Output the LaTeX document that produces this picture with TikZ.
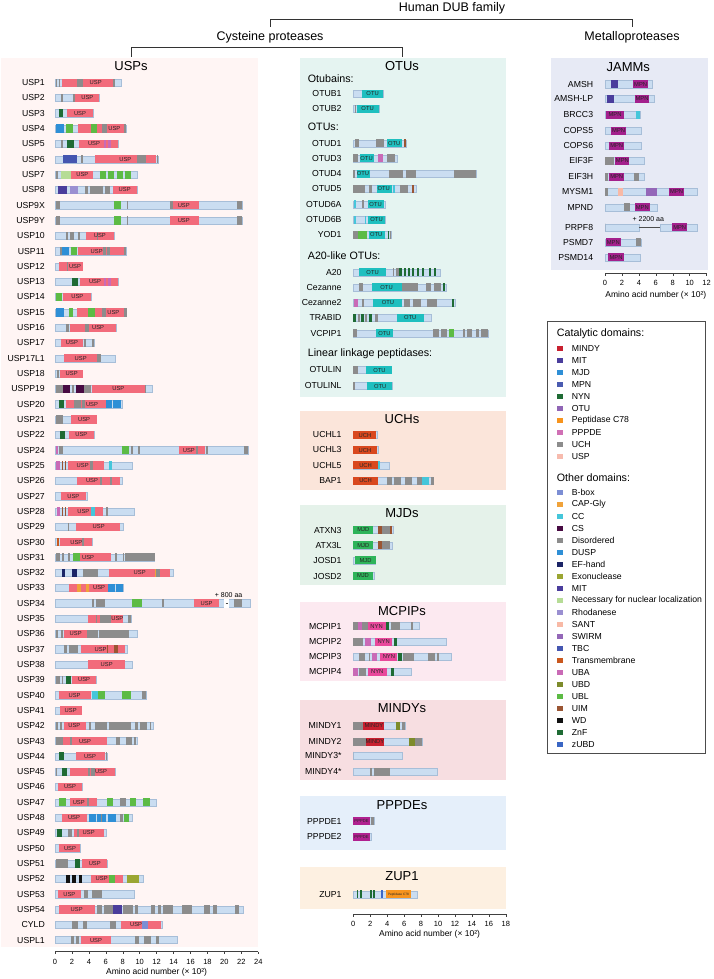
\documentclass[tikz,border=0pt]{standalone}
\usepackage{fontspec}
\setmainfont{Liberation Sans}
\usetikzlibrary{positioning}

% domain colours in the bars
\definecolor{barblue}{HTML}{CADDF1}
\definecolor{barline}{HTML}{A7BED8}
\definecolor{cusp}{HTML}{F26B7B}
\definecolor{dis}{HTML}{8C8C8C}
\definecolor{dusp}{HTML}{2E8FD6}
\definecolor{ubl}{HTML}{5CBB45}
\definecolor{znf}{HTML}{1E6B34}
\definecolor{uba}{HTML}{C96AB6}
\definecolor{tbc}{HTML}{4556B0}
\definecolor{nls}{HTML}{B6DC96}
\definecolor{mit}{HTML}{4A3D9C}
\definecolor{rhod}{HTML}{9A8FD1}
\definecolor{cs}{HTML}{470A42}
\definecolor{cc}{HTML}{45C6DA}
\definecolor{uim}{HTML}{9A5533}
\definecolor{tm}{HTML}{C9581E}
\definecolor{capgly}{HTML}{F0A23A}
\definecolor{efh}{HTML}{1B2466}
\definecolor{exo}{HTML}{9BA632}
\definecolor{ubd}{HTML}{7D8B2B}
\definecolor{wd}{HTML}{111111}
\definecolor{bbox}{HTML}{7C8ED4}
\definecolor{sant}{HTML}{F8B9A6}
\definecolor{swirm}{HTML}{9467B8}
\definecolor{zubd}{HTML}{3A66C4}
\definecolor{otu}{HTML}{1FBFBF}
\definecolor{uch}{HTML}{D9481E}
\definecolor{mjd}{HTML}{2EB45A}
\definecolor{nyn}{HTML}{E8489B}
\definecolor{mindy}{HTML}{C8202F}
\definecolor{pppde}{HTML}{B0208F}
\definecolor{mpn}{HTML}{A3208C}
\definecolor{pepc}{HTML}{F7941D}
% legend only
\definecolor{lgmpn}{HTML}{4A5BB0}
\definecolor{lgotu}{HTML}{9065B5}
\definecolor{lgpppde}{HTML}{D070B5}
\definecolor{lgusp}{HTML}{F7BBAE}
% panel backgrounds
\definecolor{uspbg}{HTML}{FFF5F4}
\definecolor{otubg}{HTML}{E5F4F1}
\definecolor{uchbg}{HTML}{FBE5DA}
\definecolor{mjdbg}{HTML}{E5F2EA}
\definecolor{mcpipbg}{HTML}{FCE9F0}
\definecolor{mindybg}{HTML}{F7DEE1}
\definecolor{pppdebg}{HTML}{E5EFFA}
\definecolor{zupbg}{HTML}{FDF0E1}
\definecolor{jammbg}{HTML}{E7EAF5}

\newcommand{\tinylbl}{\fontsize{4.2}{4.2}\selectfont}
\newcommand{\tinierlbl}{\fontsize{3.2}{3.2}\selectfont}

% one protein: id, name, row y, length, domains (from/to/colour), domain labels (at/text)
\newcommand{\protein}[6]{%
  \node[plabel] (#1) at (\lblx,#3) {#2};
  \filldraw[bar] (0,{#3-3.6}) rectangle (#4,{#3+3.6});
  \foreach \da/\db/\dc in {#5} {\fill[\dc] (\da,{#3-4.1}) rectangle (\db,{#3+4.1});}
  \foreach \lp/\lt [count=\k] in {#6} {\node[dlabel] (#1-\k) at (\lp,#3) {\lt};}
}

\begin{document}
\begin{tikzpicture}[
    x=1pt, y=-1pt,
    head/.style={font=\fontsize{12.5}{14}\selectfont, inner sep=1pt},
    ptitle/.style={font=\fontsize{13}{15}\selectfont, inner sep=0pt},
    sub/.style={font=\fontsize{10.7}{12}\selectfont, anchor=west, inner sep=0pt},
    plabel/.style={font=\fontsize{8.7}{10}\selectfont, anchor=east, inner sep=0pt},
    dlabel/.style={font=\fontsize{5.8}{6}\selectfont, text=black!85, inner sep=0pt},
    bar/.style={fill=barblue, draw=barline, line width=0.4pt},
    axisline/.style={draw=black!75, line width=0.5pt},
    ticklab/.style={font=\fontsize{7.5}{9}\selectfont, inner sep=0pt},
    axtitle/.style={font=\fontsize{8.5}{10}\selectfont, inner sep=0pt},
    note/.style={font=\fontsize{7}{8}\selectfont, inner sep=0pt},
    legtext/.style={font=\fontsize{8.7}{10}\selectfont, anchor=west, inner sep=0pt},
    bracket/.style={draw=black!80, line width=0.6pt}
]
    \useasboundingbox (0,0) rectangle (713,979);

    % Panel backgrounds
    \fill[uspbg] (1,58) rectangle (258,947);
    \fill[otubg] (300,58.3) rectangle (506,397);
    \fill[uchbg] (300,410.7) rectangle (506,490);
    \fill[mjdbg] (300,505) rectangle (506,585);
    \fill[mcpipbg] (300,602.3) rectangle (506,681);
    \fill[mindybg] (300,700.3) rectangle (506,780);
    \fill[pppdebg] (300,796) rectangle (506,850);
    \fill[zupbg] (300,867.3) rectangle (506,909.3);
    \fill[jammbg] (551,58.3) rectangle (707.7,270);

    % Family tree
    \node[head] (dub) at (452,8) {Human DUB family};
    \node[head] (cys) at (270,37) {Cysteine proteases};
    \node[head] (metal) at (632,37) {Metalloproteases};
    \coordinate (uspTop) at (131,57);
    \coordinate (otuTop) at (402,57);
    \draw[bracket] ([yshift=3pt]cys.north) |- ([yshift=-4pt]dub.south) -| ([yshift=3pt]metal.north);
    \draw[bracket] (uspTop) |- ([yshift=-3pt]cys.south) -| (otuTop);

    % Panel titles
    \node[ptitle] (usps) at (131,65.7) {USPs};
    \node[ptitle] (otus) at (402,65.7) {OTUs};
    \node[ptitle] (uchs) at (402,419.3) {UCHs};
    \node[ptitle] (mjds) at (402,513.3) {MJDs};
    \node[ptitle] (mcpips) at (402,610.7) {MCPIPs};
    \node[ptitle] (mindys) at (402,708.3) {MINDYs};
    \node[ptitle] (pppdes) at (402,805) {PPPDEs};
    \node[ptitle] (zups) at (402,876) {ZUP1};
    \node[ptitle] (jamms) at (628.3,66.7) {JAMMs};

    % OTU sub-groups
    \node[sub] (otubains) at (307.7,78.3) {Otubains:};
    \node[sub] (otugroup) at (307.7,127.3) {OTUs:};
    \node[sub] (a20like) at (307.7,256) {A20-like OTUs:};
    \node[sub] (linear) at (307.7,354) {Linear linkage peptidases:};

    % USPs
    \begin{scope}[shift={(55,0)}, x=8.47pt]
    \def\lblx{-1.18}
    \protein{usp1}{USP1}{82.7}{7.76}{0.12/0.28/dis, 0.47/0.59/dis, 0.87/7.1/cusp, 2.64/3.35/dis, 6.9/7.1/dis}{4.8/USP}
    \protein{usp2}{USP2}{98.0}{5.24}{0.7/0.95/dis, 2.1/2.36/dis, 2.36/5.24/cusp}{3.82/USP}
    \protein{usp3}{USP3}{113.3}{4.53}{0.47/0.95/znf, 1.46/4.53/cusp}{2.95/USP}
    \protein{usp4}{USP4}{128.6}{8.39}{0.12/1.1/dusp, 1.26/2.09/ubl, 2.68/8.15/cusp, 4.25/5.0/ubl, 5.5/6.1/dis, 8.15/8.39/dis}{7.0/USP}
    \protein{usp5}{USP5}{143.9}{7.48}{0.7/0.9/dis, 1.38/2.28/znf, 2.87/7.48/cusp, 5.75/6.0/uba, 6.22/6.6/uba}{4.6/USP}
    \protein{usp6}{USP6}{159.3}{12.2}{0.9/2.6/tbc, 3.07/3.3/dis, 4.68/11.9/cusp, 9.72/10.7/dis, 12.0/12.2/dis}{8.3/USP}
    \protein{usp7}{USP7}{174.6}{9.65}{0.08/0.4/dis, 0.67/1.85/nls, 1.85/4.53/cusp, 5.35/6.0/ubl, 6.3/7.0/ubl, 7.28/8.0/ubl, 8.27/8.98/ubl}{3.23/USP}
    \protein{usp8}{USP8}{189.9}{9.65}{0.4/1.42/mit, 1.8/2.76/rhod, 3.58/3.9/dis, 4.17/5.7/dis, 5.94/6.5/dis, 6.81/9.65/cusp}{8.23/USP}
    \protein{usp9x}{USP9X}{205.2}{22.1}{0.08/0.63/dis, 6.97/7.83/ubl, 8.46/8.66/dis, 13.6/13.9/dis, 13.9/17.0/cusp, 21.46/22.1/dis}{15.2/USP}
    \protein{usp9y}{USP9Y}{220.5}{22.1}{0.08/0.63/dis, 6.97/7.83/ubl, 8.46/8.66/dis, 13.54/17.0/cusp, 21.46/22.1/dis}{15.2/USP}
    \protein{usp10}{USP10}{235.8}{6.97}{1.26/1.5/dis, 1.73/2.24/dis, 2.68/2.95/dis, 3.66/6.97/cusp, 4.9/5.1/dis}{5.3/USP}
    \protein{usp11}{USP11}{251.1}{8.39}{0.63/0.83/dis, 0.83/1.7/dusp, 1.85/2.6/ubl, 2.76/8.15/cusp, 5.7/6.0/dis, 6.18/6.5/dis, 8.15/8.39/dis}{4.92/USP}
    \protein{usp12}{USP12}{266.4}{3.27}{0.51/3.27/cusp, 1.38/1.57/dis}{2.36/USP}
    \protein{usp13}{USP13}{281.7}{7.48}{2.05/2.76/znf, 2.95/7.48/cusp, 5.75/6.0/uba, 6.26/6.6/uba}{4.72/USP}
    \protein{usp14}{USP14}{297.0}{4.25}{0.12/0.79/ubl, 0.98/4.25/cusp}{2.64/USP}
    \protein{usp15}{USP15}{312.4}{8.46}{0.12/1.06/dusp, 1.61/2.09/ubl, 2.56/8.15/cusp, 3.9/4.69/ubl, 5.5/6.0/dis, 8.2/8.46/dis}{6.89/USP}
    \protein{usp16}{USP16}{327.7}{7.17}{1.34/1.65/dis, 1.77/7.17/cusp, 3.5/4.06/dis}{5.08/USP}
    \protein{usp17}{USP17}{343.0}{4.65}{0.75/3.31/cusp, 3.39/3.62/dis, 4.33/4.65/dis}{2.0/USP}
    \protein{usp17l1}{USP17L1}{358.3}{7.05}{1.1/4.96/cusp, 5.0/5.43/dis}{3.03/USP}
    \protein{usp18}{USP18}{373.6}{3.27}{0.24/0.47/dis, 0.55/3.27/cusp}{1.97/USP}
    \protein{uspp19}{USPP19}{388.9}{11.5}{0.08/0.98/dis, 0.98/1.81/cs, 2.0/2.24/dis, 2.48/3.39/cs, 3.46/4.21/dis, 4.33/10.67/cusp, 10.63/10.8/dis}{7.48/USP}
    \protein{usp20}{USP20}{404.2}{7.95}{0.43/1.1/znf, 1.3/6.02/cusp, 2.24/3.03/dis, 3.15/3.58/dis, 6.02/6.77/dusp, 6.9/7.8/dusp}{4.37/USP}
    \protein{usp21}{USP21}{419.5}{4.92}{0.08/0.94/dis, 1.89/4.92/cusp}{3.43/USP}
    \protein{usp22}{USP22}{434.8}{4.6}{0.59/1.22/znf, 1.65/4.6/cusp}{3.11/USP}
    \protein{usp24}{USP24}{450.1}{22.76}{0.08/0.39/uba, 0.47/0.94/dis, 7.87/8.7/ubl, 8.98/9.17/dis, 9.8/10.0/dis, 14.65/17.68/cusp, 16.65/16.9/dis, 17.87/18.1/dis, 22.3/22.76/dis}{15.8/USP}
    \protein{usp25}{USP25}{465.5}{9.17}{0.16/0.59/uba, 0.87/1.0/uim, 1.15/1.3/uim, 1.54/5.75/cusp, 4.13/4.45/dis, 6.38/6.69/cc}{3.27/USP}
    \protein{usp26}{USP26}{480.8}{7.95}{2.64/7.68/cusp, 5.3/5.5/dis, 6.54/6.69/dis}{4.37/USP}
    \protein{usp27}{USP27}{496.1}{3.82}{0.75/3.7/cusp}{2.17/USP}
    \protein{usp28}{USP28}{511.4}{9.4}{0.24/0.63/uba, 0.87/1.0/uim, 1.15/1.3/uim, 1.54/5.7/cusp, 4.2/4.69/cc, 6.02/6.26/dis}{3.35/USP}
    \protein{usp29}{USP29}{526.7}{8.07}{1.5/1.7/dis, 2.52/7.68/cusp}{5.16/USP}
    \protein{usp30}{USP30}{542.0}{4.45}{0.2/0.45/tm, 0.59/4.33/cusp, 3.23/3.43/dis}{2.52/USP}
    \protein{usp31}{USP31}{557.3}{11.77}{0.08/0.59/dis, 0.83/1.06/dis, 1.54/1.77/dis, 2.13/2.95/ubl, 2.95/6.61/cusp, 7.09/7.32/dis, 8.03/8.2/dis, 8.3/11.77/dis}{3.9/USP}
    \protein{usp32}{USP32}{572.6}{13.9}{0.83/1.14/efh, 2.05/2.64/efh, 3.27/5.12/dis, 6.42/13.58/cusp, 11.75/11.9/capgly, 11.9/12.4/dis}{10.0/USP}
    \protein{usp33}{USP33}{587.9}{8.07}{1.65/6.22/cusp, 2.6/3.03/capgly, 3.66/4.06/capgly, 6.22/7.09/dusp, 7.2/8.07/dusp}{5.2/USP}
    \protein{usp34}{USP34}{603.2}{23.03}{4.37/4.65/dis, 4.88/5.94/dis, 9.13/10.24/ubl, 12.68/12.87/dis, 16.42/19.4/cusp, 21.14/22.13/dis}{17.9/USP}
    \fill[white] (20.0,598.5) rectangle (20.6,607.9);
    \coordinate (gapL) at (20.15,603.2);
    \coordinate (gapR) at (20.45,603.2);
    \draw[black!70, line width=0.5pt] (gapL) -- (gapR);
    \node[note] (usp34extra) at (20.5,595) {+ 800 aa};
    \protein{usp35}{USP35}{618.6}{8.94}{3.9/8.07/cusp, 4.8/5.0/dis, 5.31/6.61/dis, 8.58/8.94/dis}{7.36/USP}
    \protein{usp36}{USP36}{633.9}{9.76}{0.16/0.35/dis, 0.67/0.9/dis, 1.1/3.74/cusp, 3.82/5.12/dis, 5.16/8.7/dis}{2.44/USP}
    \protein{usp37}{USP37}{649.2}{8.54}{1.06/1.46/dis, 1.65/2.72/dis, 3.03/8.27/cusp, 6.14/6.3/uim, 7.0/7.4/uim}{5.39/USP}
    \protein{usp38}{USP38}{664.5}{9.06}{3.9/8.23/cusp}{6.1/USP}
    \protein{usp39}{USP39}{679.8}{4.92}{0.08/0.63/dis, 0.79/0.98/dis, 1.26/1.89/znf, 2.0/4.84/cusp}{3.43/USP}
    \protein{usp40}{USP40}{695.1}{10.75}{0.47/4.25/cusp, 4.37/5.04/cc, 5.04/5.87/ubl, 7.95/9.02/ubl, 10.28/10.75/dis}{2.32/USP}
    \protein{usp41}{USP41}{710.4}{3.15}{0.59/3.15/cusp}{1.85/USP}
    \protein{usp42}{USP42}{725.7}{11.54}{0.12/0.35/dis, 0.59/0.83/dis, 1.02/3.66/cusp, 3.98/4.29/dis, 4.69/6.18/dis, 6.38/8.94/dis, 9.49/9.8/dis, 10.04/10.9/dis, 11.2/11.35/dis}{2.28/USP}
    \protein{usp43}{USP43}{741.0}{9.72}{0.08/0.94/dis, 0.98/6.18/cusp, 1.81/2.0/dis, 7.17/7.4/dis, 7.48/7.72/dis, 8.35/9.13/dis, 9.33/9.55/dis}{3.54/USP}
    \protein{usp44}{USP44}{756.3}{6.18}{0.47/1.06/znf, 2.44/5.9/cusp, 5.98/6.18/dis}{4.13/USP}
    \protein{usp45}{USP45}{771.6}{7.09}{0.08/0.28/dis, 0.83/1.38/znf, 1.73/7.09/cusp, 3.9/4.13/dis, 4.29/4.69/dis}{5.43/USP}
    \protein{usp46}{USP46}{786.9}{3.23}{0.39/3.23/cusp}{1.77/USP}
    \protein{usp47}{USP47}{802.3}{11.93}{0.43/1.3/ubl, 1.73/4.92/cusp, 3.74/3.98/dis, 6.18/6.89/ubl, 7.68/8.39/dis, 8.86/9.57/ubl, 10.35/11.22/ubl}{2.8/USP}
    \protein{usp48}{USP48}{817.6}{9.06}{0.83/3.78/cusp, 4.02/4.8/dusp, 4.96/6.02/dusp, 5.43/5.6/dis, 6.22/7.2/dusp, 7.68/8.0/dis, 8.11/8.74/ubl}{2.24/USP}
    \protein{usp49}{USP49}{832.9}{6.02}{0.24/0.87/znf, 1.5/2.05/dis, 2.2/5.79/cusp, 2.6/2.8/dis}{3.98/USP}
    \protein{usp50}{USP50}{848.2}{2.99}{0.43/2.99/cusp}{1.77/USP}
    \protein{usp51}{USP51}{863.5}{6.18}{0.08/1.54/dis, 2.36/2.99/znf, 3.23/6.18/cusp}{4.69/USP}
    \protein{usp52}{USP52}{878.8}{10.43}{1.34/1.77/wd, 2.05/2.48/wd, 2.87/3.23/wd, 4.25/8.07/cusp, 6.42/7.13/ubl, 8.54/9.96/exo}{5.51/USP}
    \protein{usp53}{USP53}{894.1}{9.37}{0.39/3.07/cusp, 3.43/3.9/dis, 4.33/5.59/dis}{1.69/USP}
    \protein{usp54}{USP54}{909.4}{22.17}{0.51/4.72/cusp, 4.92/5.51/dis, 5.75/6.89/dis, 6.89/7.87/mit, 8.03/9.25/dis, 9.45/9.76/dis, 11.3/11.85/dis, 12.2/12.56/dis, 12.76/13.94/dis, 15.04/16.18/dis, 17.56/18.35/dis, 18.7/19.13/dis, 21.3/21.73/dis}{2.56/USP}
    \protein{cyld}{CYLD}{924.7}{12.6}{2.0/2.68/dis, 3.27/3.82/dis, 6.5/7.17/dis, 7.83/12.56/cusp, 10.28/10.98/bbox}{9.57/USP}
    \protein{uspl1}{USPL1}{940.0}{14.37}{1.93/2.24/dis, 2.48/2.8/dis, 3.07/6.61/cusp, 9.41/9.92/dis, 10.5/11.34/dis, 11.89/12.24/dis}{4.84/USP}

    % axis
    \draw[axisline] (0,951.7) -- (24,951.7);
    \foreach \t in {0,2,...,24} {
        \draw[axisline] (\t,951.7) -- (\t,954.2);
        \node[ticklab] (ut\t) at (\t,961.7) {\t};
    }
    \node[axtitle] (uaxis) at (12,972) {Amino acid number (× 10²)};
    \end{scope}

    % Middle column: OTUs, UCHs, MJDs, MCPIPs, MINDYs, PPPDEs, ZUP1
    \begin{scope}[shift={(353.3,0)}, x=8.47pt]
    \def\lblx{-1.37}
    \protein{otub1}{OTUB1}{94}{3.54}{0.98/3.54/otu}{2.28/OTU}
    \protein{otub2}{OTUB2}{109}{3.03}{0.2/0.35/dis, 0.43/3.03/otu}{1.69/OTU}
    \protein{otud1}{OTUD1}{143.3}{6.2}{0.2/0.67/dis, 2.67/3.65/dis, 3.97/5.7/otu, 5.93/6.2/uim}{4.83/OTU}
    \protein{otud3}{OTUD3}{158.3}{5.19}{0/0.51/dis, 0.79/2.44/otu, 2.95/3.46/uba, 4.0/4.91/dis}{1.57/OTU}
    \protein{otud4}{OTUD4}{173.7}{14.54}{0/0.24/dis, 0.39/1.96/otu, 4.24/5.82/dis, 6.17/7.35/dis, 11.87/14.54/dis}{1.15/OTU}
    \protein{otud5}{OTUD5}{189}{7.47}{0/1.38/dis, 1.85/2.24/dis, 2.79/4.52/otu, 4.68/4.91/cc, 5.46/6.48/dis, 6.95/7.19/uim}{3.58/OTU}
    \protein{otud6a}{OTUD6A}{204.3}{3.73}{0.08/0.28/cc, 1.06/1.3/dis, 1.77/3.65/otu}{2.63/OTU}
    \protein{otud6b}{OTUD6B}{219.7}{3.73}{0.08/0.28/cc, 1.38/1.53/cc, 1.77/3.73/otu}{2.75/OTU}
    \protein{yod1}{YOD1}{235}{4.52}{0/0.59/dis, 0.59/1.57/ubl, 1.85/3.73/otu, 4.05/4.2/znf, 4.3/4.4/dis}{2.71/OTU}
    \protein{a20}{A20}{272.3}{10.3}{0.71/3.85/otu, 4.68/4.85/dis, 5.0/5.4/dis, 5.45/5.7/znf, 5.95/6.2/znf, 6.45/6.7/znf, 6.95/7.2/znf, 7.55/7.8/znf, 8.15/8.4/znf, 8.9/9.15/znf, 9.5/9.75/znf}{2.28/OTU}
    \protein{cezanne}{Cezanne}{287.3}{10.92}{0.67/1.1/dis, 2.16/5.78/otu, 5.78/7.58/dis, 8.53/9.23/dis, 9.55/10.33/dis, 10.6/10.88/znf}{3.93/OTU}
    \protein{cezanne2}{Cezanne2}{302.7}{12.06}{0.12/0.51/uba, 0.98/1.22/dis, 2.36/5.78/otu, 5.93/6.68/dis, 7.07/7.98/dis, 8.72/9.94/dis, 11.65/11.88/znf}{4.09/OTU}
    \protein{trabid}{TRABID}{318}{9.23}{0/0.31/znf, 0.51/0.83/dis, 0.9/1.22/znf, 1.38/1.61/dis, 1.85/2.24/znf, 2.55/2.87/dis, 5.11/8.37/otu}{6.72/OTU}
    \protein{vcpip1}{VCPIP1}{333.3}{15.9}{0/0.43/dis, 2.67/4.72/otu, 9.43/10.1/dis, 10.3/11.08/dis, 11.3/11.87/ubl, 12.9/13.16/dis, 13.44/14.03/dis, 14.46/14.85/dis, 15.13/15.9/dis}{3.69/OTU}
    \protein{otulin}{OTULIN}{370}{4.52}{0/0.59/dis, 1.49/4.52/otu}{3.1/OTU}
    \protein{otulinl}{OTULINL}{386}{4.6}{0/0.2/dis, 1.57/4.6/otu}{3.18/OTU}

    % UCHs
    \protein{uchl1}{UCHL1}{435}{2.79}{0/2.63/uch}{1.38/UCH}
    \protein{uchl3}{UCHL3}{450}{2.95}{0/2.75/uch}{1.38/UCH}
    \protein{uchl5}{UCHL5}{465.3}{4.28}{0/2.95/uch, 2.95/3.18/cc}{1.45/UCH}
    \protein{bap1}{BAP1}{480.7}{9.47}{0/2.87/uch, 3.93/4.56/dis, 4.83/5.58/dis, 6.09/6.88/dis, 7.54/8.09/dis, 8.09/8.96/cc, 9.16/9.47/dis}{1.45/UCH}

    % MJDs
    \protein{atxn3}{ATXN3}{530}{4.75}{0/2.36/mjd, 2.91/3.42/uim, 3.42/4.32/dis, 4.32/4.52/uim}{1.18/MJD}
    \protein{atx3l}{ATX3L}{545.3}{4.64}{0/2.36/mjd, 2.91/3.42/uim, 3.42/4.32/dis}{1.18/MJD}
    \protein{josd1}{JOSD1}{560.3}{2.63}{0.24/2.63/mjd}{1.45/MJD}
    \protein{josd2}{JOSD2}{576}{2.48}{0/2.28/mjd}{1.14/MJD}

    % MCPIPs
    \protein{mcpip1}{MCPIP1}{626}{7.82}{0/0.51/dis, 0.51/1.06/uba, 1.06/1.77/dis, 1.77/3.81/nyn, 3.81/4.2/znf, 4.48/5.46/dis, 6.8/7.07/dis}{2.75/NYN}
    \protein{mcpip2}{MCPIP2}{641.7}{10.92}{0/1.18/dis, 1.41/2.08/uba, 2.55/4.6/nyn, 4.75/5.15/znf}{3.58/NYN}
    \protein{mcpip3}{MCPIP3}{656.7}{11.6}{0.67/1.38/dis, 1.85/2.0/dis, 2.16/2.75/uba, 3.18/5.19/nyn, 5.3/5.7/znf, 5.89/7.15/dis, 8.84/9.63/dis, 9.9/10.1/dis}{4.2/NYN}
    \protein{mcpip4}{MCPIP4}{671.7}{6.88}{0/0.51/uba, 0.67/1.45/dis, 1.77/3.93/nyn, 4.4/4.8/znf}{2.83/NYN}

    % MINDYs
    \protein{mindy1}{MINDY1}{725.7}{6.09}{0/1.18/dis, 1.18/3.65/mindy, 5.03/5.5/ubd, 5.7/6.09/dis}{2.44/MINDY}
    \protein{mindy2}{MINDY2}{741.7}{8.1}{0/1.49/dis, 1.49/3.65/mindy, 6.6/7.27/ubd, 7.27/8.1/dis}{2.55/MINDY}
    \protein{mindy3}{MINDY3*}{755.7}{5.78}{0/0/dis}{0/{}}
    \protein{mindy4}{MINDY4*}{771.7}{9.94}{2.0/2.24/dis, 2.44/4.32/dis}{0/{}}

    % PPPDEs
    \protein{pppde1}{PPPDE1}{821}{2.48}{0/1.96/pppde, 2.08/2.48/dis}{0.98/\tinylbl PPPDE}
    \protein{pppde2}{PPPDE2}{836.7}{2.16}{0/1.96/pppde}{0.98/\tinylbl PPPDE}

    % ZUP1
    \protein{zup1}{ZUP1}{894.3}{7.58}{0.39/0.6/znf, 0.75/0.98/znf, 1.93/2.15/znf, 2.3/2.51/znf, 3.22/3.5/zubd, 3.89/6.8/pepc}{5.34/\tinierlbl Peptidase C78}

    % axis
    \draw[axisline] (0,914) -- (18,914);
    \foreach \t in {0,2,...,18} {
        \draw[axisline] (\t,914) -- (\t,916.5);
        \node[ticklab] (mt\t) at (\t,923.5) {\t};
    }
    \node[axtitle] (maxis) at (9,934) {Amino acid number (× 10²)};
    \end{scope}

    % JAMMs
    \begin{scope}[shift={(605,0)}, x=8.47pt]
    \def\lblx{-1.38}
    \protein{amsh}{AMSH}{84.3}{5.59}{0.75/1.57/mit, 3.35/5.04/mpn}{4.21/MPN}
    \protein{amshlp}{AMSH-LP}{99}{5.75}{0.28/1.1/mit, 3.54/5.2/mpn}{4.37/MPN}
    \protein{brcc3}{BRCC3}{115}{4.13}{0.12/2.28/mpn, 3.66/4.13/cc}{1.18/MPN}
    \protein{cops5}{COPS5}{130.7}{4.33}{0.71/2.48/mpn}{1.61/MPN}
    \protein{cops6}{COPS6}{145.7}{4.33}{0.51/2.24/mpn}{1.38/MPN}
    \protein{eif3f}{EIF3F}{161}{4.65}{0/1.06/dis, 1.18/2.87/mpn}{2.05/MPN}
    \protein{eif3h}{EIF3H}{176.7}{4.61}{0/0.39/dis, 0.51/2.24/mpn, 3.46/4.02/dis}{1.38/MPN}
    \protein{mysm1}{MYSM1}{191.7}{10.83}{0/0.39/dis, 1.5/2.17/sant, 4.84/6.14/swirm, 7.56/9.29/mpn}{8.46/MPN}
    \protein{mpnd}{MPND}{207.3}{6.18}{2.2/2.95/dis, 3.54/5.28/mpn}{4.41/MPN}
    \protein{prpf8}{PRPF8}{227.3}{4.06}{0/0/dis}{0/{}}
    \filldraw[bar] (6.5,223.7) rectangle (10.94,230.9);
    \fill[mpn] (7.95,223.2) rectangle (9.65,231.4);
    \node[dlabel] (prpf8-mpn) at (8.82,227.3) {MPN};
    \coordinate (prpfL) at (4.06,227.3);
    \coordinate (prpfR) at (6.5,227.3);
    \draw[black!70, line width=0.6pt] (prpfL) -- (prpfR);
    \node[note] (prpf8extra) at (5.11,219) {+ 2200 aa};
    \protein{psmd7}{PSMD7}{242.3}{4.25}{0.08/1.89/mpn, 3.62/4.21/dis}{0.98/MPN}
    \protein{psmd14}{PSMD14}{257.3}{4.13}{0.39/2.2/mpn}{1.3/MPN}

    % axis
    \draw[axisline] (0,273.3) -- (12,273.3);
    \foreach \t in {0,2,...,12} {
        \draw[axisline] (\t,273.3) -- (\t,275.8);
        \node[ticklab] (jt\t) at (\t,283) {\t};
    }
    \node[axtitle] (jaxis) at (6,295) {Amino acid number (× 10²)};
    \end{scope}

    % Legend
    \draw[draw=black!70, line width=0.6pt] (547.7,321) rectangle (705,753);
    \node[sub] (catdom) at (556.7,333.3) {Catalytic domains:};
    \foreach \lc/\ln [count=\i from 0] in {mindy/MINDY, mit/MIT, dusp/MJD, lgmpn/MPN, znf/NYN,
        lgotu/OTU, pepc/Peptidase C78, lgpppde/PPPDE, dis/UCH, lgusp/USP} {
        \fill[\lc] (557.3,{348.3+12*\i-2.7}) rectangle ++(5.4,5.4);
        \node[legtext] (cat\i) at (571.7,{348.3+12*\i}) {\ln};
    }
    \node[sub] (othdom) at (556.7,477.7) {Other domains:};
    \foreach \lc/\ln [count=\i from 0] in {bbox/B-box, capgly/CAP-Gly, cc/CC, cs/CS, dis/Disordered,
        dusp/DUSP, efh/EF-hand, exo/Exonuclease, mit/MIT, nls/Necessary for nuclear localization,
        rhod/Rhodanese, sant/SANT, swirm/SWIRM, tbc/TBC, tm/Transmembrane, uba/UBA, ubd/UBD,
        ubl/UBL, uim/UIM, wd/WD, znf/ZnF, zubd/zUBD} {
        \fill[\lc] (557.3,{492.7+12*\i-2.7}) rectangle ++(5.4,5.4);
        \node[legtext] (oth\i) at (571.7,{492.7+12*\i}) {\ln};
    }

\end{tikzpicture}
\end{document}
